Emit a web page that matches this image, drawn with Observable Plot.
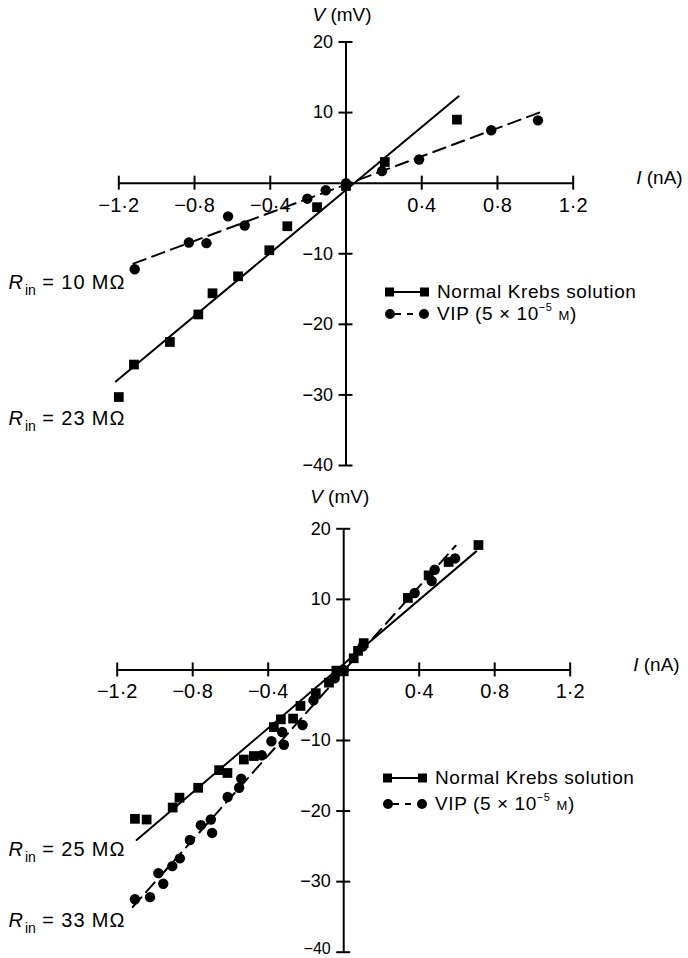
<!DOCTYPE html>
<html><head><meta charset="utf-8">
<script src="https://cdn.jsdelivr.net/npm/d3@7"></script>
<script src="https://cdn.jsdelivr.net/npm/@observablehq/plot@0.6"></script>
<style>
body{margin:0;background:#fff;}
#wrap{position:relative;width:688px;height:958px;font-family:"Liberation Sans",Arial,Helvetica,sans-serif;overflow:hidden;}
.panel{position:absolute;left:0;}
.panel svg{overflow:visible;}
.legend{position:absolute;font-size:19px;color:#000;letter-spacing:0.6px;line-height:1;}
.legend .row{position:absolute;left:0;white-space:nowrap;display:flex;align-items:center;}
.legend svg{margin-right:8px;}
</style></head><body><div id="wrap"></div>
<script>
// ---- axis ticks ----
const xTickValues = [-1.2, -0.8, -0.4, 0.4, 0.8, 1.2];
const xTickLabels = ["−1·2", "−0·8", "−0·4", "0·4", "0·8", "1·2"];
const yTickValues = [20, 10, -10, -20, -30, -40];
const yTickLabels = ["20", "10", "−10", "−20", "−30", "−40"];
const seriesNames = ["Normal Krebs solution", "VIP (5 × 10−5 M)"];

// ---- top panel ----
const topKrebsCurrent = [-1.2, -1.12, -0.93, -0.78, -0.705, -0.57, -0.405, -0.31, -0.153, 0, 0.205, 0.586];
const topKrebsVoltage = [-30.3, -25.7, -22.5, -18.6, -15.6, -13.2, -9.5, -6.1, -3.4, -0.4, 3.0, 9.0];
const topVipCurrent = [-1.116, -0.83, -0.737, -0.623, -0.535, -0.204, -0.107, 0, 0.19, 0.386, 0.767, 1.014];
const topVipVoltage = [-12.2, -8.4, -8.5, -4.7, -6.0, -2.2, -1.0, 0, 1.7, 3.35, 7.5, 8.9];
const topKrebsFitCurrent = [-1.216, 0.595];
const topKrebsFitVoltage = [-28.1, 12.3];
const topVipFitCurrent = [-1.123, 1.021];
const topVipFitVoltage = [-11.4, 10.0];
const topRin = ["10", "23"];

// ---- bottom panel ----
const botKrebsCurrent = [-1.106, -1.044, -0.906, -0.87, -0.771, -0.66, -0.616, -0.529, -0.476, -0.37, -0.333, -0.268, -0.229, -0.148, -0.078, -0.039, 0, 0.053, 0.076, 0.106, 0.34, 0.45, 0.556, 0.714];
const botKrebsVoltage = [-21.1, -21.2, -19.5, -18.1, -16.7, -14.2, -14.6, -12.7, -12.2, -8.1, -7.0, -6.9, -5.1, -3.3, -1.8, -0.1, -0.2, 1.65, 2.7, 3.8, 10.2, 13.4, 15.3, 17.7];
const botVipCurrent = [-1.106, -1.026, -0.982, -0.956, -0.908, -0.868, -0.815, -0.757, -0.704, -0.697, -0.615, -0.554, -0.543, -0.434, -0.383, -0.326, -0.317, -0.218, -0.16, -0.048, 0, 0.1, 0.376, 0.466, 0.482, 0.59];
const botVipVoltage = [-32.5, -32.2, -28.8, -30.3, -27.8, -26.7, -24.1, -22.0, -21.2, -23.1, -18.0, -16.7, -15.4, -12.1, -10.1, -8.8, -10.6, -7.8, -4.3, -1.2, 0, 3.3, 10.9, 12.6, 14.2, 15.8];
const botKrebsFitCurrent = [-1.097, 0.702];
const botKrebsFitVoltage = [-24.1, 16.8];
const botVipFitCurrent = [-1.118, 0.593];
const botVipFitVoltage = [-33.6, 17.6];
const botRin = ["25", "33"];

const zip = (xs, ys) => xs.map((x, i) => ({I: x, V: ys[i]}));

function makePanel(cfg) {
  const krebs = zip(cfg.kI, cfg.kV), vip = zip(cfg.vI, cfg.vV);
  const kFit = zip(cfg.kfI, cfg.kfV), vFit = zip(cfg.vfI, cfg.vfV);
  const rinData = cfg.rin.map((r, i) => ({label: "Rin = " + r + " MΩ", y: cfg.rinY[i]}));
  const yMain = yTickValues.slice(0, -1), yLast = yTickValues.slice(-1);
  const svg = Plot.plot({
    width: 688, height: cfg.height,
    marginTop: cfg.mt, marginBottom: cfg.mb, marginLeft: cfg.ml, marginRight: cfg.mr,
    style: {fontFamily: '"Liberation Sans", Arial, Helvetica, sans-serif', background: "white", overflow: "visible"},
    x: {domain: [-1.2, 1.2], axis: null},
    y: {domain: [-40, 20], axis: null},
    marks: [
      Plot.ruleY([0], {stroke: "black", strokeWidth: 2}),
      Plot.ruleX([0], {stroke: "black", strokeWidth: 2}),
      Plot.ruleX(xTickValues, {x: d => d, y1: 0, y2: 0, insetTop: -7, insetBottom: -7, stroke: "black", strokeWidth: 2}),
      Plot.ruleY(yTickValues, {y: d => d, x1: 0, x2: 0, insetLeft: -7, insetRight: -7, stroke: "black", strokeWidth: 2}),
      Plot.text(xTickValues, {x: d => d, y: 0, text: (d, i) => xTickLabels[i], dy: 22, fontSize: 20, fill: "black"}),
      Plot.text(yMain, {x: 0, y: d => d, text: (d, i) => yTickLabels[i], textAnchor: "end", dx: -13, fontSize: 18, fill: "black"}),
      Plot.text(yLast, {x: 0, y: d => d, text: () => yTickLabels[yTickLabels.length - 1], textAnchor: "end", dx: -13, dy: cfg.lastDy, fontSize: cfg.lastSize, fill: "black"}),
      Plot.text(["V (mV)"], {x: 0, y: 20, text: d => d, dy: cfg.vTitleDy, dx: -4, fontSize: 19, fill: "black"}),
      Plot.text(["I (nA)"], {x: 1.2, y: 0, text: d => d, textAnchor: "start", dx: 63, dy: -5, fontSize: 19, fill: "black"}),
      Plot.line(kFit, {x: "I", y: "V", stroke: "black", strokeWidth: 2}),
      Plot.line(vFit, {x: "I", y: "V", stroke: "black", strokeWidth: 2, strokeDasharray: "13,7"}),
      Plot.dot(krebs, {x: "I", y: "V", symbol: "square", r: 5.5, fill: "black", stroke: "none"}),
      Plot.dot(vip, {x: "I", y: "V", symbol: "circle", r: 5.2, fill: "black", stroke: "none"}),
      Plot.text(rinData, {frameAnchor: "left", y: "y", text: "label", textAnchor: "start", dx: 8 - cfg.ml, fontSize: 20, fill: "black"})
    ]
  });
  d3.select(svg).selectAll("text").each(function() {
    const t = d3.select(this); const str = t.text();
    if (str.startsWith("Rin = ")) {
      t.text("");
      t.append("tspan").attr("font-style", "italic").text("R");
      t.append("tspan").attr("font-size", "14px").attr("dx", "2").attr("dy", "6").text("in");
      t.append("tspan").attr("dy", "-6").attr("letter-spacing", "0.9").text(str.slice(3));
    } else if (str === "V (mV)" || str === "I (nA)") {
      t.text("");
      t.append("tspan").attr("font-style", "italic").text(str[0]);
      t.append("tspan").text(str.slice(1));
    }
  });
  const div = document.createElement("div");
  div.className = "panel"; div.style.top = cfg.top + "px";
  div.appendChild(svg);
  return div;
}

function makeLegend(left, top, gap) {
  const lg = document.createElement("div");
  lg.className = "legend"; lg.style.left = left + "px"; lg.style.top = top + "px";
  const swK = `<svg width="44" height="12"><rect x="0" y="1.5" width="9" height="9" fill="black"/><line x1="9" y1="6" x2="35" y2="6" stroke="black" stroke-width="2"/><rect x="35" y="1.5" width="9" height="9" fill="black"/></svg>`;
  const swV = `<svg width="44" height="12"><circle cx="5" cy="6" r="5" fill="black"/><line x1="9" y1="6" x2="35" y2="6" stroke="black" stroke-width="2" stroke-dasharray="6,6" stroke-dashoffset="-1"/><circle cx="39" cy="6" r="5" fill="black"/></svg>`;
  const vipLabel = seriesNames[1].replace("10−5 M", '10<sup style="font-size:11px;position:relative;top:-2px;vertical-align:top;">−5</sup> <span style="font-size:13px">M</span>');
  lg.innerHTML = `<div class="row" style="top:0">${swK}<span>${seriesNames[0]}</span></div>` +
                 `<div class="row" style="top:${gap}px">${swV}<span>${vipLabel}</span></div>`;
  return lg;
}

const wrap = document.getElementById("wrap");
wrap.appendChild(makePanel({
  top: 0, height: 480, mt: 41.5, mb: 15, ml: 118.3, mr: 688 - 572.7,
  kI: topKrebsCurrent, kV: topKrebsVoltage, vI: topVipCurrent, vV: topVipVoltage,
  kfI: topKrebsFitCurrent, kfV: topKrebsFitVoltage, vfI: topVipFitCurrent, vfV: topVipFitVoltage,
  rin: topRin, rinY: [-14.1, -33.4], vTitleDy: -27, lastDy: 0, lastSize: 18
}));
wrap.appendChild(makePanel({
  top: 480, height: 478, mt: 48.3, mb: 6.3, ml: 116.7, mr: 688 - 569.7,
  kI: botKrebsCurrent, kV: botKrebsVoltage, vI: botVipCurrent, vV: botVipVoltage,
  kfI: botKrebsFitCurrent, kfV: botKrebsFitVoltage, vfI: botVipFitCurrent, vfV: botVipFitVoltage,
  rin: botRin, rinY: [-25.5, -35.5], vTitleDy: -32, lastDy: -3, lastSize: 16
}));
wrap.appendChild(makeLegend(385, 282, 22));
wrap.appendChild(makeLegend(383, 768, 26));
</script></body></html>
